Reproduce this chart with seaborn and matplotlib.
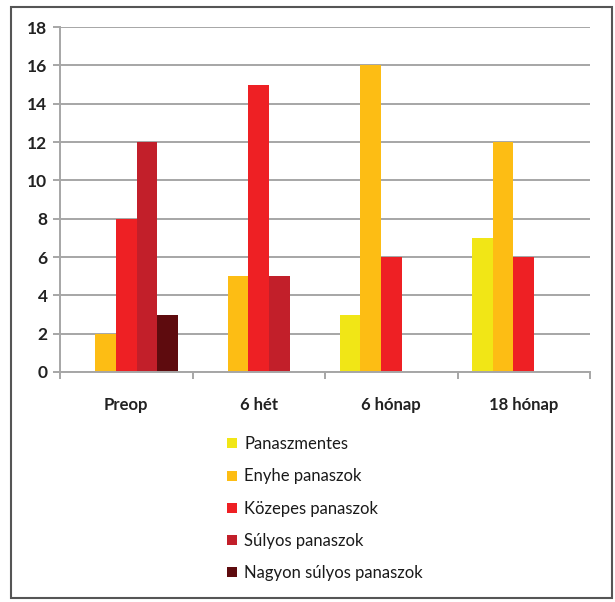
import matplotlib
matplotlib.use("Agg")
import matplotlib.pyplot as plt
from matplotlib.lines import Line2D
from matplotlib.patches import Rectangle
from matplotlib.ticker import FixedLocator, MultipleLocator
import seaborn as sns
import pandas as pd

# Measurement times and complaint categories
idopontok = ["Preop", "6 hét", "6 hónap", "18 hónap"]
panasz_kategoriak = ["Panaszmentes", "Enyhe panaszok", "Közepes panaszok",
                     "Súlyos panaszok", "Nagyon súlyos panaszok"]

# Patient counts per category at each time point
panaszmentes = [0, 0, 3, 7]
enyhe = [2, 5, 16, 12]
kozepes = [8, 15, 6, 6]
sulyos = [12, 5, 0, 0]
nagyon_sulyos = [3, 0, 0, 0]

szinek = ["#F1E616", "#FDBD14", "#EE2024", "#C21F2A", "#5E0B0E"]

ertekek = [panaszmentes, enyhe, kozepes, sulyos, nagyon_sulyos]
rows = []
for kat, vals in zip(panasz_kategoriak, ertekek):
    for t, v in zip(idopontok, vals):
        rows.append({"idopont": t, "panasz": kat, "letszam": v})
df = pd.DataFrame(rows)

sns.set_theme(style="white")
plt.rcParams["font.family"] = ["Lato", "DejaVu Sans"]

fig = plt.figure(figsize=(6.15, 6.02), dpi=100)
ax = fig.add_axes([60 / 615, 1 - 372 / 602, 530 / 615, 345 / 602])

sns.barplot(data=df, x="idopont", y="letszam", hue="panasz",
            order=idopontok, hue_order=panasz_kategoriak,
            palette=szinek, saturation=1, width=0.78, linewidth=0,
            legend=False, ax=ax)

ax.set_ylim(0, 18)
ax.set_xlim(-0.5, 3.5)
ax.yaxis.set_major_locator(MultipleLocator(2))
ax.grid(axis="y", color="#A6A6A6", linewidth=1.4, zorder=0)
ax.set_axisbelow(True)
ax.set_xlabel("")
ax.set_ylabel("")

for side in ["top", "right"]:
    ax.spines[side].set_visible(False)
for side in ["left", "bottom"]:
    ax.spines[side].set_color("#A6A6A6")
    ax.spines[side].set_linewidth(1.4)

ax.tick_params(axis="y", which="major", left=True, length=5, width=1.4,
               color="#A6A6A6", labelsize=12.5, labelcolor="#222222", pad=4)
for lbl in ax.get_yticklabels():
    lbl.set_fontweight("bold")

# Category labels centred, tick marks at group boundaries
ax.tick_params(axis="x", which="major", length=0, labelsize=12,
               labelcolor="#222222", pad=18)
for lbl in ax.get_xticklabels():
    lbl.set_fontweight("bold")
ax.xaxis.set_minor_locator(FixedLocator([-0.5, 0.5, 1.5, 2.5, 3.5]))
ax.tick_params(axis="x", which="minor", bottom=True, length=5, width=1.4,
               color="#A6A6A6")

handles = [Line2D([0], [0], marker="s", linestyle="none", markersize=7.5,
                  markerfacecolor=c, markeredgewidth=0) for c in szinek]
fig.legend(handles, panasz_kategoriak, loc="upper left",
           bbox_to_anchor=(210 / 615, 1 - 421 / 602), frameon=False,
           fontsize=12, labelspacing=0.98, handlelength=0.8,
           handletextpad=0.35, labelcolor="#1A1A1A")

# Outer frame around the whole chart
fig.patches.append(Rectangle((11 / 615, 4 / 602), 601 / 615, 591 / 602,
                             transform=fig.transFigure, fill=False,
                             edgecolor="#555555", linewidth=1.5))

fig.savefig("out.png", dpi=100)
